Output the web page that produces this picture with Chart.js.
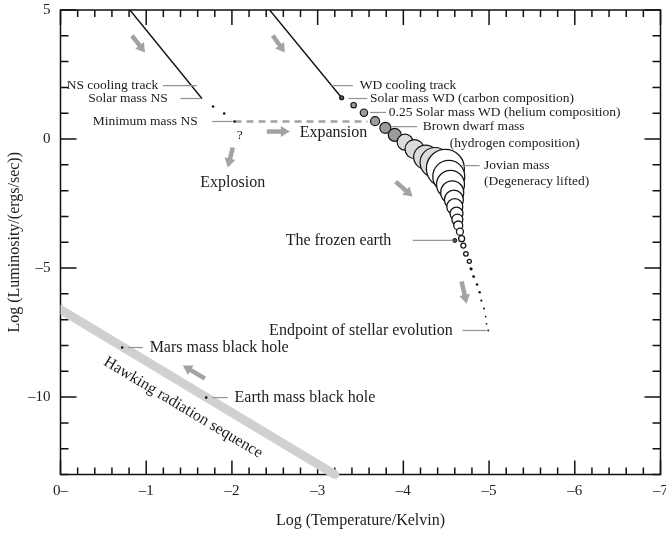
<!DOCTYPE html>
<html>
<head>
<meta charset="utf-8">
<script src="https://cdn.jsdelivr.net/npm/chart.js@4.4.0/dist/chart.umd.min.js"></script>
<style>
  html, body { margin: 0; padding: 0; background: #fff; }
</style>
</head>
<body>
<canvas id="chart" width="666" height="534"></canvas>
<script>
// cooling tracks (log T, log L)
const nsTrackX = [-0.81, -1.65];
const nsTrackY = [5, 1.57];
const wdTrackX = [-2.44, -3.28];
const wdTrackY = [5, 1.6];
const expansionX = [-2.03, -3.58];
const expansionY = [0.68, 0.68];
const hawkingX = [0, -3.2];
const hawkingY = [-6.61, -13];

// neutron star remnants past the track
const nsDotX = [-1.78, -1.91, -2.03];
const nsDotY = [1.26, 0.99, 0.68];

// white dwarf -> brown dwarf -> planet sequence
const wdSeqX = [-3.28];
const wdSeqY = [1.6];
const wdSeqR = [2];
const grayX = [-3.42, -3.54, -3.67, -3.79, -3.9];
const grayY = [1.31, 1.02, 0.69, 0.43, 0.16];
const grayR = [2.7, 3.7, 4.5, 5.5, 6.5];
const lightX = [-4.02, -4.13, -4.26, -4.37];
const lightY = [-0.12, -0.39, -0.7, -0.91];
const lightR = [8, 9.5, 12, 15];
const planetX = [-4.49, -4.53, -4.55, -4.57, -4.59, -4.6, -4.62, -4.63, -4.64, -4.66, -4.68, -4.7, -4.73, -4.77];
const planetY = [-1.14, -1.45, -1.76, -2.07, -2.35, -2.62, -2.89, -3.12, -3.35, -3.59, -3.86, -4.13, -4.45, -4.74];
const planetR = [19, 16, 14, 11.5, 9.5, 8, 6.5, 5.5, 4.5, 3.5, 3, 2.5, 2.3, 2];
const tailX = [-4.79, -4.82, -4.86, -4.89, -4.91, -4.94, -4.96, -4.97, -4.99];
const tailY = [-5.03, -5.33, -5.64, -5.94, -6.26, -6.57, -6.88, -7.16, -7.42];
const tailR = [1.6, 1.4, 1.3, 1.2, 1.1, 1, 0.9, 0.9, 0.9];
const frozenX = [-4.6];
const frozenY = [-3.93];

// black holes on the Hawking sequence
const blackHoleX = [-0.72, -1.7];
const blackHoleY = [-8.08, -10.02];

const xTicks = [0, -1, -2, -3, -4, -5, -6, -7];
const yTicks = [5, 0, -5, -10];

// annotations
const labels = [
  { text: 'NS cooling track', x: -1.14, y: 2.07, align: 'right', size: 13.5 },
  { text: 'Solar mass NS', x: -1.25, y: 1.57, align: 'right', size: 13.5 },
  { text: 'Minimum mass NS', x: -1.6, y: 0.68, align: 'right', size: 13.5 },
  { text: '?', x: -2.09, y: 0.14, align: 'center', size: 13.5 },
  { text: 'Explosion', x: -2.01, y: -1.69, align: 'center', size: 16 },
  { text: 'Expansion', x: -2.79, y: 0.25, align: 'left', size: 16 },
  { text: 'WD cooling track', x: -3.49, y: 2.07, align: 'left', size: 13.5 },
  { text: 'Solar mass WD (carbon composition)', x: -3.61, y: 1.57, align: 'left', size: 13.5 },
  { text: '0.25 Solar mass WD (helium composition)', x: -3.83, y: 1.03, align: 'left', size: 13.5 },
  { text: 'Brown dwarf mass', x: -4.225, y: 0.48, align: 'left', size: 13.5 },
  { text: '(hydrogen composition)', x: -4.54, y: -0.17, align: 'left', size: 13.5 },
  { text: 'Jovian mass', x: -4.94, y: -1.03, align: 'left', size: 13.5 },
  { text: '(Degeneracy lifted)', x: -4.94, y: -1.65, align: 'left', size: 13.5 },
  { text: 'The frozen earth', x: -3.86, y: -3.93, align: 'right', size: 16 },
  { text: 'Endpoint of stellar evolution', x: -4.575, y: -7.42, align: 'right', size: 16 },
  { text: 'Mars mass black hole', x: -1.04, y: -8.08, align: 'left', size: 16 },
  { text: 'Earth mass black hole', x: -2.03, y: -10.02, align: 'left', size: 16 },
  { text: 'Hawking radiation sequence', x: -1.43, y: -10.41, align: 'center', size: 16, angle: 31 }
];
const leaders = [
  [-1.195, 2.07, -1.59, 2.07],
  [-1.4, 1.57, -1.64, 1.57],
  [-1.77, 0.68, -2.01, 0.68],
  [-3.16, 2.07, -3.41, 2.07],
  [-3.36, 1.57, -3.58, 1.57],
  [-3.61, 1.03, -3.8, 1.03],
  [-3.86, 0.48, -4.16, 0.48],
  [-4.68, -1.03, -4.89, -1.03],
  [-4.11, -3.93, -4.58, -3.93],
  [-4.69, -7.42, -4.97, -7.42],
  [-0.79, -8.08, -0.96, -8.08],
  [-1.77, -10.02, -1.95, -10.02]
];
const arrows = [
  [-0.834, 4.01, -0.986, 3.35],
  [-2.477, 4.01, -2.617, 3.35],
  [-2.407, 0.29, -2.675, 0.29],
  [-2.01, -0.33, -1.952, -1.1],
  [-3.91, -1.65, -4.108, -2.23],
  [-4.679, -5.52, -4.738, -6.38],
  [-1.684, -9.28, -1.428, -8.78]
];

const SERIF = "'Liberation Serif', 'DejaVu Serif', serif";
const INK = '#1c1c1c';

function pts(xs, ys) {
  return xs.map((x, i) => ({ x: x, y: ys[i] }));
}
function bubbles(xs, ys, rs) {
  return xs.map((x, i) => ({ x: x, y: ys[i], r: rs[i] }));
}
function minus(v) {
  return v < 0 ? '\u2013' + Math.abs(v) : String(v);
}

const overlay = {
  id: 'overlay',
  beforeDatasetsDraw(chart) {
    const { ctx, chartArea: a, scales: { x, y } } = chart;
    ctx.save();
    ctx.strokeStyle = '#111';
    ctx.lineWidth = 1.5;
    ctx.strokeRect(a.left, a.top, a.right - a.left, a.bottom - a.top);
    ctx.beginPath();
    for (let i = 0; i <= 35; i++) {
      const p = x.getPixelForValue(-i / 5);
      const big = i % 5 === 0;
      ctx.moveTo(p, a.bottom);
      ctx.lineTo(p, a.bottom - (big ? 14 : 7));
      ctx.moveTo(p, a.top);
      ctx.lineTo(p, a.top + (big ? 15 : 7));
    }
    for (let v = -13; v <= 5; v++) {
      const p = y.getPixelForValue(v);
      const big = v % 5 === 0;
      ctx.moveTo(a.left, p);
      ctx.lineTo(a.left + (big ? 16 : 8), p);
      ctx.moveTo(a.right, p);
      ctx.lineTo(a.right - (big ? 16 : 8), p);
    }
    ctx.stroke();
    ctx.restore();
  },
  afterDatasetsDraw(chart) {
    const { ctx, scales: { x, y } } = chart;
    const px = v => x.getPixelForValue(v);
    const py = v => y.getPixelForValue(v);
    ctx.save();

    ctx.strokeStyle = '#939393';
    ctx.lineWidth = 1.2;
    leaders.forEach(([x1, y1, x2, y2]) => {
      ctx.beginPath();
      ctx.moveTo(px(x1), py(y1));
      ctx.lineTo(px(x2), py(y2));
      ctx.stroke();
    });

    // thick gray arrows
    ctx.strokeStyle = '#a3a3a3';
    ctx.fillStyle = '#a3a3a3';
    arrows.forEach(([x1, y1, x2, y2]) => {
      const ax = px(x1), ay = py(y1), bx = px(x2), by = py(y2);
      const ang = Math.atan2(by - ay, bx - ax);
      const head = 9, half = 5.5;
      const sx = bx - Math.cos(ang) * head, sy = by - Math.sin(ang) * head;
      ctx.lineWidth = 4.5;
      ctx.lineCap = 'butt';
      ctx.beginPath();
      ctx.moveTo(ax, ay);
      ctx.lineTo(sx + Math.cos(ang), sy + Math.sin(ang));
      ctx.stroke();
      ctx.beginPath();
      ctx.moveTo(bx, by);
      ctx.lineTo(sx - Math.sin(ang) * half, sy + Math.cos(ang) * half);
      ctx.lineTo(sx + Math.sin(ang) * half, sy - Math.cos(ang) * half);
      ctx.closePath();
      ctx.fill();
    });

    ctx.fillStyle = INK;
    ctx.textBaseline = 'middle';
    labels.forEach(l => {
      ctx.save();
      ctx.font = l.size + 'px ' + SERIF;
      ctx.textAlign = l.align;
      ctx.translate(px(l.x), py(l.y));
      if (l.angle) ctx.rotate(l.angle * Math.PI / 180);
      ctx.fillText(l.text, 0, 0);
      ctx.restore();
    });
    ctx.restore();
  }
};

const circleBorder = '#151515';

new Chart(document.getElementById('chart'), {
  type: 'scatter',
  data: {
    datasets: [
      {
        data: pts(hawkingX, hawkingY), showLine: true, pointRadius: 0,
        borderColor: '#d0d0d0', borderWidth: 9, borderCapStyle: 'round',
        clip: { left: 0, top: 0, right: 0, bottom: 6 }, order: 10
      },
      {
        data: pts(nsTrackX, nsTrackY), showLine: true, pointRadius: 0,
        borderColor: '#111', borderWidth: 1.4, order: 9
      },
      {
        data: pts(wdTrackX, wdTrackY), showLine: true, pointRadius: 0,
        borderColor: '#111', borderWidth: 1.4, order: 9
      },
      {
        data: pts(expansionX, expansionY), showLine: true, pointRadius: 0,
        borderColor: '#a3a3a3', borderWidth: 2.6, borderDash: [7, 5], order: 8
      },
      {
        type: 'bubble', data: bubbles(wdSeqX, wdSeqY, wdSeqR),
        backgroundColor: '#555', borderColor: circleBorder, borderWidth: 1.2, order: 7
      },
      {
        type: 'bubble', data: bubbles(grayX, grayY, grayR),
        backgroundColor: '#9c9c9c', borderColor: circleBorder, borderWidth: 1.2, order: 6
      },
      {
        type: 'bubble', data: bubbles(lightX, lightY, lightR),
        backgroundColor: '#dcdcdc', borderColor: circleBorder, borderWidth: 1.2, order: 5
      },
      {
        type: 'bubble', data: bubbles(planetX, planetY, planetR),
        backgroundColor: '#fff', borderColor: circleBorder, borderWidth: 1.3, order: 4
      },
      {
        type: 'bubble', data: bubbles(tailX, tailY, tailR),
        backgroundColor: '#111', borderColor: '#111', borderWidth: 0, order: 3
      },
      {
        data: pts(frozenX, frozenY), pointRadius: 2, pointBackgroundColor: '#555',
        pointBorderColor: '#111', pointBorderWidth: 1, order: 2
      },
      {
        data: pts(nsDotX, nsDotY), pointRadius: 1.3, pointBackgroundColor: '#111',
        pointBorderWidth: 0, order: 2
      },
      {
        data: pts(blackHoleX, blackHoleY), pointRadius: 1.3, pointBackgroundColor: '#111',
        pointBorderWidth: 0, order: 2
      }
    ]
  },
  options: {
    responsive: false,
    animation: false,
    events: [],
    layout: { autoPadding: false, padding: { top: 10, right: 5.5, left: 0, bottom: 0 } },
    plugins: { legend: { display: false }, tooltip: { enabled: false } },
    scales: {
      x: {
        type: 'linear', min: -7, max: 0, reverse: true,
        grid: { display: false, drawTicks: false },
        border: { display: false },
        afterBuildTicks: s => { s.ticks = xTicks.map(v => ({ value: v })); },
        ticks: {
          padding: 8, color: INK, maxRotation: 0, autoSkip: false,
          font: { family: SERIF, size: 15 },
          callback: v => v === 0 ? '0\u2013' : minus(v)
        },
        title: {
          display: true, text: 'Log (Temperature/Kelvin)', color: INK,
          font: { family: SERIF, size: 16 }, padding: { top: 0, bottom: 3.5 }
        },
        afterFit: s => { s.height = 59.5; s.paddingLeft = 0; s.paddingRight = 0; }
      },
      y: {
        type: 'linear', min: -13, max: 5,
        grid: { display: false, drawTicks: false },
        border: { display: false },
        afterBuildTicks: s => { s.ticks = yTicks.map(v => ({ value: v })); },
        ticks: {
          padding: 10, color: INK, autoSkip: false,
          font: { family: SERIF, size: 15 },
          callback: v => minus(v)
        },
        title: {
          display: true, text: 'Log (Luminosity/(ergs/sec))', color: INK,
          font: { family: SERIF, size: 16 }, padding: { top: 5, bottom: 0 }
        },
        afterFit: s => { s.width = 60.5; s.paddingTop = 0; s.paddingBottom = 0; }
      }
    }
  },
  plugins: [overlay]
});
</script>
</body>
</html>
